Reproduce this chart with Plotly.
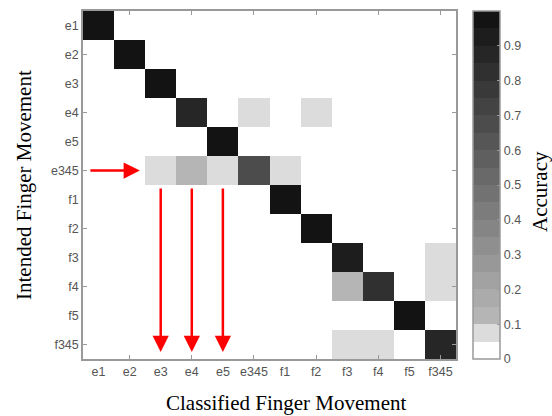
import plotly.graph_objects as go

labels = ["e1", "e2", "e3", "e4", "e5", "e345", "f1", "f2", "f3", "f4", "f5", "f345"]

# rows = intended, columns = classified
row_e1 =   [0.98, 0, 0, 0, 0, 0, 0, 0, 0, 0, 0, 0]
row_e2 =   [0, 0.98, 0, 0, 0, 0, 0, 0, 0, 0, 0, 0]
row_e3 =   [0, 0, 0.97, 0, 0, 0, 0, 0, 0, 0, 0, 0]
row_e4 =   [0, 0, 0, 0.88, 0, 0.06, 0, 0.06, 0, 0, 0, 0]
row_e5 =   [0, 0, 0, 0, 0.97, 0, 0, 0, 0, 0, 0, 0]
row_e345 = [0, 0, 0.08, 0.12, 0.07, 0.66, 0.07, 0, 0, 0, 0, 0]
row_f1 =   [0, 0, 0, 0, 0, 0, 0.98, 0, 0, 0, 0, 0]
row_f2 =   [0, 0, 0, 0, 0, 0, 0, 0.97, 0, 0, 0, 0]
row_f3 =   [0, 0, 0, 0, 0, 0, 0, 0, 0.93, 0, 0, 0.07]
row_f4 =   [0, 0, 0, 0, 0, 0, 0, 0, 0.13, 0.81, 0, 0.06]
row_f5 =   [0, 0, 0, 0, 0, 0, 0, 0, 0, 0, 0.98, 0]
row_f345 = [0, 0, 0, 0, 0, 0, 0, 0, 0.07, 0.07, 0, 0.86]

z = [row_e1, row_e2, row_e3, row_e4, row_e5, row_e345,
     row_f1, row_f2, row_f3, row_f4, row_f5, row_f345]

cbar_ticks = [0, 0.1, 0.2, 0.3, 0.4, 0.5, 0.6, 0.7, 0.8, 0.9]

# highlighted confusion: arrow to row e345, arrows down at columns e3,e4,e5
arrow_row = "e345"
arrow_cols = ["e3", "e4", "e5"]

# discrete 20-band gray colormap
band_grays = [255, 220, 181, 171, 162, 152, 143, 133, 124, 114,
              105, 95, 86, 76, 67, 57, 48, 38, 29, 19]
nb = len(band_grays)
colorscale = []
for i, g in enumerate(band_grays):
    c = f"rgb({g},{g},{g})"
    colorscale.append([i / nb, c])
    colorscale.append([(i + 1) / nb, c])

idx = list(range(len(labels)))

fig = go.Figure(go.Heatmap(
    z=z, x=idx, y=idx,
    zmin=0, zmax=1,
    colorscale=colorscale,
    showscale=True,
    colorbar=dict(
        x=(473 - 83) / 373, xanchor="left", xpad=0,
        y=0.5, yanchor="middle", len=1, lenmode="fraction", ypad=0,
        thickness=27,
        outlinewidth=1.5, outlinecolor="#999999",
        tickvals=cbar_ticks, ticktext=[str(t) for t in cbar_ticks],
        ticks="inside", ticklen=3, tickcolor="#999999",
        tickfont=dict(family="Liberation Sans", size=12.5, color="#555555"),
    ),
))

axis_common = dict(
    showline=True, mirror="ticks", linecolor="#999999", linewidth=1.5,
    ticks="inside", ticklen=0, tickcolor="#999999",
    showgrid=False, zeroline=False,
    tickmode="array", tickvals=idx, ticktext=labels,
    tickfont=dict(family="Liberation Sans", size=12.5, color="#555555"),
    minor=dict(tickmode="array", tickvals=[1, 3, 5, 7, 9, 11],
               ticks="inside", ticklen=4, tickcolor="#999999", showgrid=False),
)

fig.update_xaxes(range=[-0.5, 11.5], **axis_common)
fig.update_yaxes(range=[11.5, -0.5], **axis_common)

annotations = []
r = labels.index(arrow_row)
# horizontal arrow pointing at row
annotations.append(dict(
    x=labels.index(arrow_cols[0]) - 0.67, y=r, ax=-0.31, ay=r,
    xref="x", yref="y", axref="x", ayref="y",
    text="", showarrow=True, arrowhead=2, arrowsize=1.3, arrowwidth=2.5,
    arrowcolor="#ff0000", standoff=0,
))
for col in arrow_cols:
    c = labels.index(col)
    annotations.append(dict(
        x=c, y=11.26, ax=c, ay=r + 0.57,
        xref="x", yref="y", axref="x", ayref="y",
        text="", showarrow=True, arrowhead=2, arrowsize=1.3, arrowwidth=2.5,
        arrowcolor="#ff0000", standoff=0,
    ))

title_font = dict(family="Liberation Serif", size=21, color="black")
annotations.append(dict(
    text="Classified Finger Movement", xref="paper", yref="paper",
    x=(286 - 83) / 373, y=1 - (403 - 9) / 350, xanchor="center", yanchor="middle",
    showarrow=False, font=title_font))
annotations.append(dict(
    text="Intended Finger Movement", xref="paper", yref="paper",
    x=(24 - 83) / 373, y=0.5, xanchor="center", yanchor="middle", textangle=-90,
    showarrow=False, font=title_font))
annotations.append(dict(
    text="Accuracy", xref="paper", yref="paper",
    x=(540 - 83) / 373, y=1 - (191 - 9) / 350, xanchor="center", yanchor="middle",
    textangle=-90, showarrow=False, font=title_font))

fig.update_layout(
    width=552, height=416, autosize=False,
    margin=dict(l=83, r=96, t=9, b=57),
    paper_bgcolor="white", plot_bgcolor="white",
    annotations=annotations,
)

fig.write_html("out.html",
               config={"displayModeBar": False},
               post_script="document.body.style.margin='0px';document.body.style.overflow='hidden';")
